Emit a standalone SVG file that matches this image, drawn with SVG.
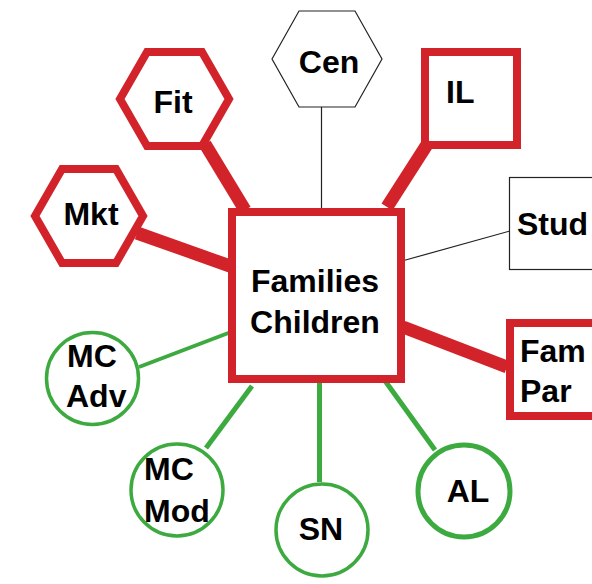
<svg xmlns="http://www.w3.org/2000/svg" width="592" height="584" viewBox="0 0 592 584">
  <style>
    .lbl { font-family: "Liberation Sans", Arial, sans-serif; font-weight: bold; font-size: 32px; fill: #000; }
    .mid { text-anchor: middle; }
    .red { fill: #fff; stroke: #d2232a; stroke-width: 8; }
    .blk { fill: #fff; stroke: #222; stroke-width: 1.2; }
    .grn { fill: #fff; stroke: #3daa40; stroke-width: 3.5; }
    .eRed { stroke: #d2232a; stroke-width: 13; fill: none; }
    .eGrn { stroke: #3daa40; stroke-width: 5; fill: none; }
    .eBlk { stroke: #222; stroke-width: 1.2; fill: none; }
  </style>
  <rect width="592" height="584" fill="#fff"/>

  <!-- connectors -->
  <g id="connectors">
    <line class="eRed" x1="205" y1="144" x2="245" y2="210"/>
    <line class="eRed" x1="137" y1="233" x2="230" y2="266"/>
    <line class="eRed" x1="428" y1="143" x2="387" y2="207"/>
    <line class="eRed" x1="403" y1="327" x2="507" y2="367"/>
    <line class="eBlk" x1="321.5" y1="107" x2="321.5" y2="208"/>
    <line class="eBlk" x1="402" y1="261" x2="510" y2="231"/>
    <line class="eGrn" x1="139" y1="367" x2="231" y2="332" style="stroke-width:4"/>
    <line class="eGrn" x1="206" y1="448" x2="252" y2="386"/>
    <line class="eGrn" x1="319.5" y1="380" x2="319.5" y2="482"/>
    <line class="eGrn" x1="383" y1="378" x2="435" y2="450"/>
  </g>

  <g id="families-children">
    <rect class="red" x="232" y="212" width="169" height="167"/>
    <text class="lbl mid" x="315" y="292">Families</text>
    <text class="lbl mid" x="315" y="333">Children</text>
  </g>

  <g id="cen">
    <polygon class="blk" points="272,59 299,11 355,11 382,59 355,107 299,107"/>
    <text class="lbl mid" x="329" y="73">Cen</text>
  </g>

  <g id="fit">
    <polygon class="red" points="120,99 147,52 202,52 229,99 202,146 147,146"/>
    <text class="lbl mid" x="173" y="113">Fit</text>
  </g>

  <g id="mkt">
    <polygon class="red" points="35,216 62,169 116,169 143,216 116,263 62,263"/>
    <text class="lbl mid" x="91" y="225">Mkt</text>
  </g>

  <g id="il">
    <rect class="red" x="425" y="52" width="92" height="93"/>
    <text class="lbl" x="446" y="103">IL</text>
  </g>

  <g id="stud">
    <rect class="blk" x="509.5" y="177.5" width="100" height="92"/>
    <text class="lbl" x="517" y="235">Stud</text>
  </g>

  <g id="fam-par">
    <rect class="red" x="510" y="323" width="100" height="93"/>
    <text class="lbl" x="520" y="362">Fam</text>
    <text class="lbl" x="520" y="402">Par</text>
  </g>

  <g id="mc-adv">
    <circle class="grn" cx="92.5" cy="378.5" r="46"/>
    <text class="lbl" x="67" y="367">MC</text>
    <text class="lbl" x="66" y="407">Adv</text>
  </g>

  <g id="mc-mod">
    <circle class="grn" cx="177" cy="490" r="46"/>
    <text class="lbl" x="144" y="480">MC</text>
    <text class="lbl" x="144" y="522">Mod</text>
  </g>

  <g id="sn">
    <circle class="grn" cx="322" cy="530" r="46"/>
    <text class="lbl mid" x="321" y="540">SN</text>
  </g>

  <g id="al">
    <circle class="grn" cx="464" cy="491" r="46" style="stroke-width:5"/>
    <text class="lbl mid" x="468" y="502">AL</text>
  </g>
</svg>
